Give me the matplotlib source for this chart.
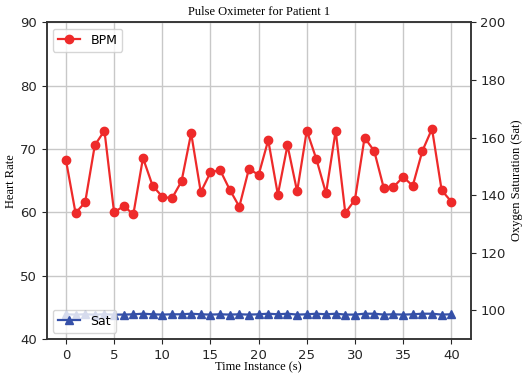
import matplotlib
matplotlib.use('Agg')
import matplotlib.pyplot as plt
import numpy as np

# ---- data ----
time_s = list(range(41))
bpm = [68.3, 59.9, 61.6, 70.6, 72.9, 60.0, 61.0, 59.7, 68.6, 64.2,
       62.5, 62.2, 64.9, 72.5, 63.2, 66.3, 66.7, 63.6, 60.9, 66.9,
       65.9, 71.4, 62.8, 70.6, 63.3, 72.9, 68.4, 63.0, 72.9, 59.9,
       62.0, 71.8, 69.7, 63.8, 64.0, 65.6, 64.2, 69.7, 73.2, 63.5,
       61.7]
sat = [98.6, 98.5, 98.6, 98.5, 98.6, 98.5, 98.5, 98.6, 98.8, 98.6,
       98.5, 98.6, 98.6, 98.8, 98.6, 98.5, 98.6, 98.5, 98.6, 98.5,
       98.6, 98.8, 98.6, 98.8, 98.5, 98.6, 98.8, 98.6, 98.8, 98.5,
       98.5, 98.8, 98.8, 98.5, 98.6, 98.5, 98.6, 98.8, 98.8, 98.5,
       98.6]

serif = 'Liberation Serif'
tick_col = '#262626'

fig, ax1 = plt.subplots(figsize=(5.24, 3.73), dpi=100)
fig.subplots_adjust(left=0.089, right=0.898, bottom=0.091, top=0.94)

ax1.plot(time_s, bpm, marker='o', color='#ee2a2a', linewidth=1.6,
         markersize=6, label='BPM')
ax1.set_ylim(40, 90)
ax1.set_xlim(-2, 42)
ax1.set_ylabel('Heart Rate', family=serif, fontsize=9, labelpad=2)
ax1.set_xlabel('Time Instance (s)', family=serif, fontsize=9, labelpad=0)
ax1.set_title('Pulse Oximeter for Patient 1', family=serif, fontsize=9, pad=5)
ax1.grid(True, color='#c8c8c8', linewidth=1.0)
ax1.set_axisbelow(True)
ax1.tick_params(labelsize=9.5, colors=tick_col, labelcolor=tick_col)
ax1.legend(loc='upper left', fontsize=9, handlelength=1.8)

ax2 = ax1.twinx()
ax2.plot(time_s, sat, marker='^', color='#3550a8', linewidth=1.6,
         markersize=5.8, label='Sat')
ax2.set_ylim(90, 200)
ax2.set_ylabel('Oxygen Saturation (Sat)', family=serif, fontsize=9, labelpad=4)
ax2.tick_params(labelsize=9.5, colors=tick_col, labelcolor=tick_col)
ax2.legend(loc='lower left', fontsize=9, handlelength=1.8)

for ax in (ax1, ax2):
    for sp in ax.spines.values():
        sp.set_color('#333333')
        sp.set_linewidth(1.1)

fig.savefig('out.png', dpi=100)
